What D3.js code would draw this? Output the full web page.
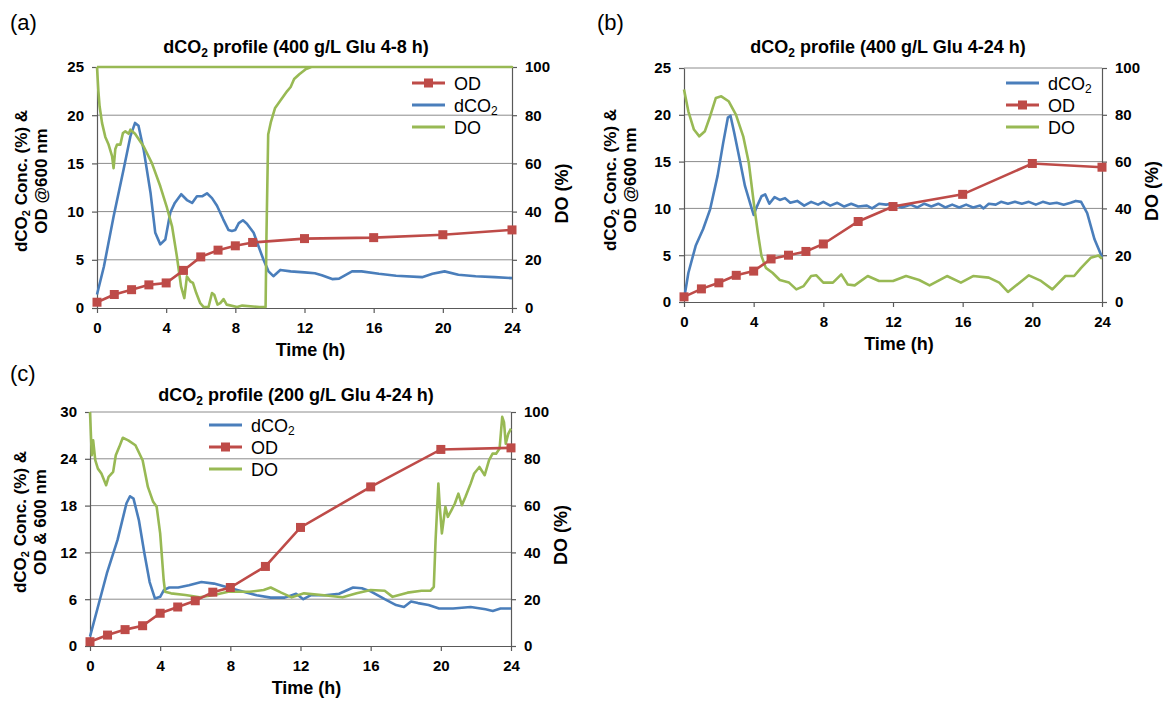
<!DOCTYPE html>
<html>
<head>
<meta charset="utf-8">
<script src="https://cdn.jsdelivr.net/npm/d3@7"></script>
<style>
  body { margin: 0; background: #fff; }
  svg { display: block; font-family: "Liberation Sans", Arial, sans-serif; }
</style>
</head>
<body>
<svg id="chart" width="1164" height="706"></svg>
<script>
// ---- data ----
var timeTicks = [0, 4, 8, 12, 16, 20, 24];
var doTicks = [0, 20, 40, 60, 80, 100];
var yTicksAB = [0, 5, 10, 15, 20, 25];
var yTicksC = [0, 6, 12, 18, 24, 30];

// (a) 400 g/L Glu 4-8 h
var odTimeA = [0, 1, 2, 3, 4, 5, 6, 7, 8, 9, 12, 16, 20, 24];
var odA = [0.6, 1.4, 1.9, 2.4, 2.6, 3.9, 5.3, 6.0, 6.45, 6.8, 7.2, 7.3, 7.6, 8.1];
var co2A = [[0,1.4],[0.4,4.3],[0.96,9.5],[1.54,14.4],[1.93,17.8],[2.2,19.2],[2.4,18.9],[2.7,16.4],[3.1,11.9],[3.37,7.8],[3.66,6.6],[3.95,7.1],[4.24,9.9],[4.5,10.9],[4.87,11.8],[5.2,11.2],[5.5,10.9],[5.78,11.6],[6.1,11.6],[6.36,11.9],[6.65,11.4],[6.94,10.6],[7.3,9.2],[7.6,8.1],[7.8,8.0],[8.0,8.1],[8.2,8.8],[8.44,9.1],[8.67,8.75],[9.06,7.8],[9.34,6.4],[9.63,5.0],[9.92,3.8],[10.2,3.3],[10.6,3.95],[11.2,3.8],[12,3.7],[12.6,3.6],[13.0,3.4],[13.6,3.0],[14,3.05],[14.75,3.8],[15.3,3.8],[16.3,3.55],[17.3,3.35],[18.8,3.2],[19.4,3.55],[20.1,3.8],[20.9,3.45],[21.9,3.3],[23,3.2],[24,3.1]];
var doA = [[0,100],[0.08,90],[0.15,83.7],[0.29,76.8],[0.48,71],[0.67,67.8],[0.87,63],[0.96,58],[1.06,66],[1.16,67.8],[1.35,67.8],[1.5,72.6],[1.64,73.3],[1.83,72.3],[1.93,74],[2.2,72.3],[2.7,67],[3.18,60],[3.66,50.5],[4.05,41.5],[4.34,33.9],[4.62,21.4],[4.86,9],[5.05,4.1],[5.2,13.1],[5.4,11],[5.55,10.4],[5.74,6.2],[5.97,2],[6.17,0.4],[6.45,0.4],[6.65,6.2],[6.78,5.5],[6.97,1.4],[7.13,2],[7.32,3.7],[7.5,1.4],[8.1,0.4],[8.4,1],[9.4,0.4],[9.75,0.4],[9.8,30],[9.9,72],[10.05,77],[10.3,83],[10.7,87],[11.0,90],[11.2,91.7],[11.4,95],[11.7,97],[12.05,99],[12.4,100],[24,100],[0,100]];

// (b) 400 g/L Glu 4-24 h
var odTimeB = [0, 1, 2, 3, 4, 5, 6, 7, 8, 10, 12, 16, 20, 24];
var odB = [0.55, 1.4, 2.05, 2.85, 3.3, 4.6, 5.0, 5.4, 6.2, 8.6, 10.2, 11.5, 14.8, 14.4];
var co2B = [[0,0.3],[0.25,3.1],[0.67,6],[1.1,7.8],[1.5,9.9],[1.93,13.5],[2.25,17],[2.52,19.7],[2.67,19.9],[2.88,18.1],[3.2,15.2],[3.5,12.4],[3.82,10.4],[4.0,9.3],[4.14,10.0],[4.45,11.3],[4.66,11.5],[4.9,10.5],[5.2,11.2],[5.5,10.9],[5.8,11.1],[6.1,10.6],[6.5,10.8],[6.9,10.3],[7.3,10.7],[7.7,10.4],[8.0,10.7],[8.4,10.3],[8.8,10.6],[9.2,10.2],[9.6,10.5],[10.0,10.2],[10.5,10.3],[10.8,10.0],[11.2,10.5],[11.6,10.4],[12.0,10.5],[12.5,10.1],[13,10.4],[13.4,10.1],[13.8,10.5],[14.2,10.2],[14.6,10.5],[15,10.1],[15.4,10.4],[15.8,10.1],[16.2,10.4],[16.6,10.1],[17,10.3],[17.2,10.0],[17.5,10.5],[17.9,10.4],[18.2,10.7],[18.6,10.5],[19,10.7],[19.4,10.5],[19.8,10.7],[20.2,10.4],[20.6,10.7],[21,10.5],[21.4,10.6],[21.8,10.4],[22.2,10.6],[22.5,10.8],[22.8,10.7],[23.15,9.5],[23.57,6.7],[24,4.8]];
var doB = [[0,90.8],[0.25,81.5],[0.57,73.7],[0.88,70.8],[1.2,73],[1.5,79.4],[1.83,87.2],[2.14,87.9],[2.56,85.8],[2.98,80.1],[3.4,70.8],[3.72,59.5],[4.03,41],[4.24,29.6],[4.45,19.6],[4.7,14.6],[5.08,12.5],[5.5,9.4],[6.03,8.3],[6.45,5.4],[6.87,6.8],[7.3,11.1],[7.6,11.4],[8.0,8.3],[8.55,8.3],[9.03,11.8],[9.4,7.5],[9.8,7.1],[10.55,11.1],[11.2,9],[12.0,9],[12.75,11.1],[13.5,9.4],[14.1,7.1],[15.1,11.1],[15.9,8.3],[16.6,11.1],[17.5,10.4],[18.1,8.3],[18.6,4.3],[19.8,11.4],[20.5,9],[21.15,5.4],[21.9,11.1],[22.4,11.1],[22.8,14.6],[23.35,18.9],[23.8,19.9],[24,18.5]];

// (c) 200 g/L Glu 4-24 h
var odTimeC = [0, 1, 2, 3, 4, 5, 6, 7, 8, 10, 12, 16, 20, 24];
var odC = [0.55, 1.4, 2.1, 2.6, 4.2, 5.0, 5.8, 6.9, 7.5, 10.2, 15.2, 20.4, 25.2, 25.4];
var co2C = [[0,1.2],[0.96,9.3],[1.57,13.6],[2.08,18.3],[2.28,19.2],[2.48,18.9],[2.79,16.1],[3.1,11.9],[3.4,8.2],[3.7,6.1],[4.0,6.3],[4.22,7.2],[4.52,7.5],[5.03,7.5],[5.64,7.8],[6.35,8.2],[7.07,8.0],[7.88,7.5],[8.7,7.0],[9.5,6.5],[10.3,6.2],[11.1,6.2],[11.75,6.7],[12.16,6.0],[12.57,6.5],[13.4,6.5],[14.2,6.7],[15.0,7.5],[15.5,7.4],[16.0,7.0],[16.8,6.0],[17.45,5.25],[17.9,5.0],[18.3,5.7],[18.7,5.5],[19.3,5.25],[19.9,4.8],[20.7,4.8],[21.7,5.0],[22.55,4.7],[22.96,4.5],[23.4,4.8],[24,4.8]];
var doC = [[0,100],[0.1,81.5],[0.18,87.9],[0.3,79.4],[0.45,75.8],[0.65,73.7],[0.92,68.7],[1.06,72.3],[1.32,74.4],[1.47,81.5],[1.67,85.1],[1.87,89.0],[2.18,87.9],[2.59,85.8],[3.0,79.4],[3.3,68],[3.6,61.6],[3.8,59.5],[4.0,48.1],[4.2,28.2],[4.28,23.2],[4.62,22.5],[5.44,21.8],[6.25,20.8],[7.07,21.8],[7.88,23.2],[9.1,23.2],[9.9,23.9],[10.3,25],[10.9,22.8],[11.5,20.8],[12.2,22.5],[13.2,21.8],[14.4,20.8],[15.2,22.5],[16.0,23.9],[16.8,23.6],[17.25,21],[18.1,22.8],[18.9,23.6],[19.4,23.6],[19.6,25.3],[19.7,45.2],[19.86,69.4],[19.94,59.5],[20.06,48.1],[20.26,59.5],[20.4,55.2],[20.6,58],[20.8,60.9],[21.0,65.1],[21.2,60.2],[21.4,63.7],[21.7,69.4],[21.9,73.7],[22.2,76.5],[22.5,73],[22.75,79.4],[22.95,82.2],[23.15,82.2],[23.35,84.4],[23.5,97.9],[23.6,95.7],[23.7,86.5],[23.85,90.8],[24.0,92.9]];

var BLUE = "#4a7ebb", RED = "#be4b48", GREEN = "#98b954";

var svg = d3.select("#chart");

// text with a subscript "2" after "dCO"
function co2Text(sel, before, after, size) {
  sel.append("tspan").text(before + "dCO");
  sel.append("tspan").attr("font-size", Math.round(size * 0.65)).attr("dy", size * 0.2).text("2");
  sel.append("tspan").attr("dy", -size * 0.2).text(after);
}

function drawPanel(p) {
  var g = svg.append("g");
  var x = d3.scaleLinear().domain([0, 24]).range([p.left, p.right]);
  var y = d3.scaleLinear().domain([0, p.yTicks[p.yTicks.length - 1]]).range([p.bottom, p.top]);
  var y2 = d3.scaleLinear().domain([0, 100]).range([p.bottom, p.top]);

  // gridlines
  g.append("g").selectAll("line")
    .data(p.yTicks.slice(1))
    .join("line")
    .attr("x1", p.left).attr("x2", p.right)
    .attr("y1", function(d) { return y(d); }).attr("y2", function(d) { return y(d); })
    .attr("stroke", "#8c8c8c").attr("stroke-width", 1);

  // axes
  var axes = [
    g.append("g").attr("transform", "translate(" + p.left + ",0)")
      .call(d3.axisLeft(y).tickValues(p.yTicks).tickSize(5).tickSizeOuter(0).tickPadding(8)),
    g.append("g").attr("transform", "translate(" + p.right + ",0)")
      .call(d3.axisRight(y2).tickValues(doTicks).tickSize(5).tickSizeOuter(0).tickPadding(8)),
    g.append("g").attr("transform", "translate(0," + p.bottom + ")")
      .call(d3.axisBottom(x).tickValues(timeTicks).tickSize(5).tickSizeOuter(0).tickPadding(9))
  ];
  axes.forEach(function(a) {
    a.select(".domain").attr("stroke", "#595959").attr("stroke-width", 1.2);
    a.selectAll(".tick line").attr("stroke", "#595959").attr("stroke-width", 1.2);
    a.selectAll(".tick text").attr("fill", "#000").attr("font-size", 15)
      .attr("font-weight", "bold").attr("font-family", "Liberation Sans, Arial, sans-serif");
  });

  var line = d3.line().x(function(d) { return x(d[0]); });

  // series
  g.append("path").datum(p.co2)
    .attr("d", line.y(function(d) { return y(d[1]); }))
    .attr("fill", "none").attr("stroke", BLUE).attr("stroke-width", 2.6).attr("stroke-linejoin", "round");
  g.append("path").datum(p.dox)
    .attr("d", line.y(function(d) { return y2(d[1]); }))
    .attr("fill", "none").attr("stroke", GREEN).attr("stroke-width", 2.6).attr("stroke-linejoin", "round");

  var od = p.odTime.map(function(t, i) { return [t, p.od[i]]; });
  g.append("path").datum(od)
    .attr("d", line.y(function(d) { return y(d[1]); }))
    .attr("fill", "none").attr("stroke", RED).attr("stroke-width", 2.6);
  g.append("g").selectAll("rect")
    .data(od)
    .join("rect")
    .attr("x", function(d) { return x(d[0]) - 4.5; })
    .attr("y", function(d) { return y(d[1]) - 4.5; })
    .attr("width", 9).attr("height", 9)
    .attr("fill", RED);

  // panel tag + title
  g.append("text").attr("x", p.tagX).attr("y", p.tagY)
    .attr("font-size", 22).attr("fill", "#000").text(p.tag);
  var title = g.append("text").attr("x", p.titleX).attr("y", p.titleY)
    .attr("text-anchor", "middle").attr("font-size", 18).attr("font-weight", "bold");
  co2Text(title, "", " profile (" + p.title + ")", 18);

  // axis titles
  g.append("text").attr("x", (p.left + p.right) / 2 + 6).attr("y", p.bottom + 48)
    .attr("text-anchor", "middle").attr("font-size", 18).attr("font-weight", "bold").text("Time (h)");
  var yl1 = g.append("text")
    .attr("transform", "translate(" + p.yTitleX[0] + "," + p.yTitleY + ") rotate(-90)")
    .attr("text-anchor", "middle").attr("font-size", 17).attr("font-weight", "bold");
  co2Text(yl1, "", " Conc. (%) &", 17);
  g.append("text")
    .attr("transform", "translate(" + p.yTitleX[1] + "," + p.yTitleY + ") rotate(-90)")
    .attr("text-anchor", "middle").attr("font-size", 17).attr("font-weight", "bold").text(p.yTitle2);
  g.append("text")
    .attr("transform", "translate(" + (p.right + 56) + "," + ((p.top + p.bottom) / 2 + 6) + ") rotate(-90)")
    .attr("text-anchor", "middle").attr("font-size", 18).attr("font-weight", "bold").text("DO (%)");

  // legend
  var leg = g.append("g").attr("transform", "translate(" + p.legX + "," + p.legY + ")");
  p.legend.forEach(function(k, i) {
    var row = leg.append("g").attr("transform", "translate(0," + i * 22 + ")");
    var col = k === "OD" ? RED : (k === "DO" ? GREEN : BLUE);
    row.append("line").attr("x1", 0).attr("x2", 33).attr("stroke", col).attr("stroke-width", 3);
    if (k === "OD") {
      row.append("rect").attr("x", 12).attr("y", -4.5).attr("width", 9).attr("height", 9).attr("fill", RED);
    }
    var t = row.append("text").attr("x", 42).attr("y", 6.5).attr("font-size", 18).attr("fill", "#000");
    if (k === "dCO2") co2Text(t, "", "", 18); else t.text(k);
  });
}

drawPanel({
  left: 97, right: 512, top: 67, bottom: 308, yTicks: yTicksAB,
  odTime: odTimeA, od: odA, co2: co2A, dox: doA,
  tag: "(a)", tagX: 10, tagY: 30, title: "400 g/L Glu 4-8 h", titleX: 296, titleY: 53,
  yTitleX: [27, 47], yTitleY: 181, yTitle2: "OD @600 nm",
  legend: ["OD", "dCO2", "DO"], legX: 412, legY: 83
});
drawPanel({
  left: 684, right: 1102, top: 68, bottom: 302, yTicks: yTicksAB,
  odTime: odTimeB, od: odB, co2: co2B, dox: doB,
  tag: "(b)", tagX: 597, tagY: 30, title: "400 g/L Glu 4-24 h", titleX: 888, titleY: 53,
  yTitleX: [616, 636], yTitleY: 180, yTitle2: "OD @600 nm",
  legend: ["dCO2", "OD", "DO"], legX: 1006, legY: 83
});
drawPanel({
  left: 90, right: 511, top: 412, bottom: 646, yTicks: yTicksC,
  odTime: odTimeC, od: odC, co2: co2C, dox: doC,
  tag: "(c)", tagX: 10, tagY: 381, title: "200 g/L Glu 4-24 h", titleX: 296, titleY: 401,
  yTitleX: [26, 46], yTitleY: 522, yTitle2: "OD & 600 nm",
  legend: ["dCO2", "OD", "DO"], legX: 209, legY: 425
});
</script>
</body>
</html>
